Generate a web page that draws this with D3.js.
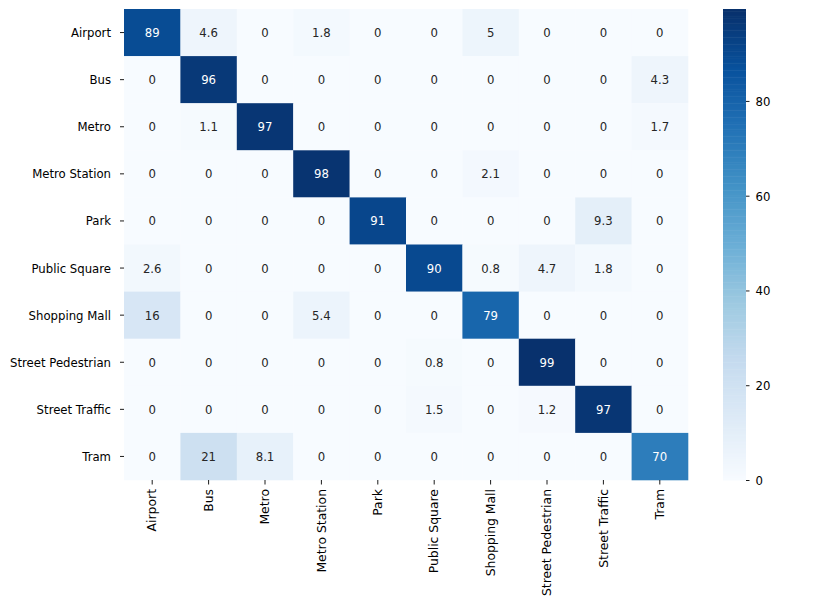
<!DOCTYPE html>
<html>
<head>
<meta charset="utf-8">
<script src="https://cdn.jsdelivr.net/npm/d3@7"></script>
<style>
  body { margin: 0; background: #fff; }
  text { font-family: "DejaVu Sans", sans-serif; }
</style>
</head>
<body>
<div id="chart"></div>
<script>
// class names (rows = true, columns = predicted)
var classes = ["Airport", "Bus", "Metro", "Metro Station", "Park", "Public Square",
    "Shopping Mall", "Street Pedestrian", "Street Traffic", "Tram"];

// one row per true class
var rowAirport = [89, 4.6, 0, 1.8, 0, 0, 5, 0, 0, 0];
var rowBus = [0, 96, 0, 0, 0, 0, 0, 0, 0, 4.3];
var rowMetro = [0, 1.1, 97, 0, 0, 0, 0, 0, 0, 1.7];
var rowMetroStation = [0, 0, 0, 98, 0, 0, 2.1, 0, 0, 0];
var rowPark = [0, 0, 0, 0, 91, 0, 0, 0, 9.3, 0];
var rowPublicSquare = [2.6, 0, 0, 0, 0, 90, 0.8, 4.7, 1.8, 0];
var rowShoppingMall = [16, 0, 0, 5.4, 0, 0, 79, 0, 0, 0];
var rowStreetPedestrian = [0, 0, 0, 0, 0, 0.8, 0, 99, 0, 0];
var rowStreetTraffic = [0, 0, 0, 0, 0, 1.5, 0, 1.2, 97, 0];
var rowTram = [0, 21, 8.1, 0, 0, 0, 0, 0, 0, 70];

var colorbarTicks = [0, 20, 40, 60, 80];
var vmax = 99.4;

var matrix = [rowAirport, rowBus, rowMetro, rowMetroStation, rowPark,
    rowPublicSquare, rowShoppingMall, rowStreetPedestrian, rowStreetTraffic, rowTram];

// the picture is a bit stretched vertically, text gets the same stretch
var k = 1.06;
var fs = 11.7;

var W = 830, H = 609;
var hm = { left: 124, top: 9, right: 688, bottom: 480 };
var cb = { left: 723, right: 746 };

var svg = d3.select("#chart").append("svg")
    .attr("width", W)
    .attr("height", H);

// matplotlib "Blues"
var blues = ["#f7fbff", "#deebf7", "#c6dbef", "#9ecae1", "#6baed6", "#4292c6", "#2171b5", "#08519c", "#08306b"];
var color = d3.scaleLinear()
    .domain(d3.range(9).map(function (i) { return i / 8 * vmax; }))
    .range(blues)
    .interpolate(d3.interpolateRgb)
    .clamp(true);

var x = d3.scaleBand().domain(classes).range([hm.left, hm.right]);
var y = d3.scaleBand().domain(classes).range([hm.top, hm.bottom]);

// relative luminance, to pick the annotation colour
function lum(c) {
    var rgb = d3.rgb(c);
    var v = [rgb.r, rgb.g, rgb.b].map(function (u) {
        u = u / 255;
        return u <= 0.03928 ? u / 12.92 : Math.pow((u + 0.055) / 1.055, 2.4);
    });
    return 0.2126 * v[0] + 0.7152 * v[1] + 0.0722 * v[2];
}

var cells = [];
matrix.forEach(function (row, i) {
    row.forEach(function (v, j) {
        cells.push({ r: classes[i], c: classes[j], v: v });
    });
});

// cells
svg.append("g").selectAll("rect")
    .data(cells)
    .enter()
    .append("rect")
    .attr("x", function (d) { return x(d.c); })
    .attr("y", function (d) { return y(d.r); })
    .attr("width", x.bandwidth() + 0.3)
    .attr("height", y.bandwidth() + 0.3)
    .attr("fill", function (d) { return color(d.v); });

// annotations
svg.append("g").selectAll("text")
    .data(cells)
    .enter()
    .append("text")
    .attr("transform", function (d) {
        return "translate(" + (x(d.c) + x.bandwidth() / 2) + "," + (y(d.r) + y.bandwidth() / 2) + ") scale(1," + k + ")";
    })
    .attr("dy", "0.36em")
    .attr("text-anchor", "middle")
    .style("font-size", fs + "px")
    .attr("fill", function (d) { return lum(color(d.v)) > 0.408 ? "#262626" : "#ffffff"; })
    .text(function (d) { return d.v; });

// y axis
var yAxis = svg.append("g");
classes.forEach(function (c) {
    var cy = y(c) + y.bandwidth() / 2;
    yAxis.append("line")
        .attr("x1", hm.left - 4).attr("x2", hm.left)
        .attr("y1", cy).attr("y2", cy)
        .attr("stroke", "#000").attr("stroke-width", 0.9);
    yAxis.append("text")
        .attr("transform", "translate(" + (hm.left - 13) + "," + cy + ") scale(1," + k + ")")
        .attr("dy", "0.36em")
        .attr("text-anchor", "end")
        .style("font-size", fs + "px")
        .attr("fill", "#000")
        .text(c);
});

// x axis
var xAxis = svg.append("g");
classes.forEach(function (c) {
    var cx = x(c) + x.bandwidth() / 2;
    xAxis.append("line")
        .attr("x1", cx).attr("x2", cx)
        .attr("y1", hm.bottom).attr("y2", hm.bottom + 4.5)
        .attr("stroke", "#000").attr("stroke-width", 0.9);
    xAxis.append("text")
        .attr("transform", "translate(" + cx + "," + (hm.bottom + 9) + ") scale(1," + k + ") rotate(-90)")
        .attr("dy", "0.36em")
        .attr("text-anchor", "end")
        .style("font-size", fs + "px")
        .attr("fill", "#000")
        .text(c);
});

// colorbar
var cy = d3.scaleLinear().domain([0, vmax]).range([hm.bottom, hm.top]);
var steps = d3.range(0, 200);
svg.append("g").selectAll("rect")
    .data(steps)
    .enter()
    .append("rect")
    .attr("x", cb.left)
    .attr("width", cb.right - cb.left)
    .attr("y", function (d) { return cy((d + 1) / 200 * vmax); })
    .attr("height", (hm.bottom - hm.top) / 200 + 0.5)
    .attr("fill", function (d) { return color((d + 0.5) / 200 * vmax); });

var cbAxis = svg.append("g")
    .attr("transform", "translate(" + cb.right + ",0)")
    .call(d3.axisRight(cy).tickValues(colorbarTicks).tickSize(3.5).tickPadding(6));
cbAxis.select(".domain").remove();
cbAxis.selectAll("line").attr("stroke", "#000").attr("stroke-width", 0.9);
cbAxis.selectAll(".tick text")
    .attr("fill", "#000")
    .style("font-size", fs + "px")
    .style("font-family", "DejaVu Sans")
    .attr("transform", "scale(1," + k + ")")
    .attr("dy", "0.36em");
</script>
</body>
</html>
